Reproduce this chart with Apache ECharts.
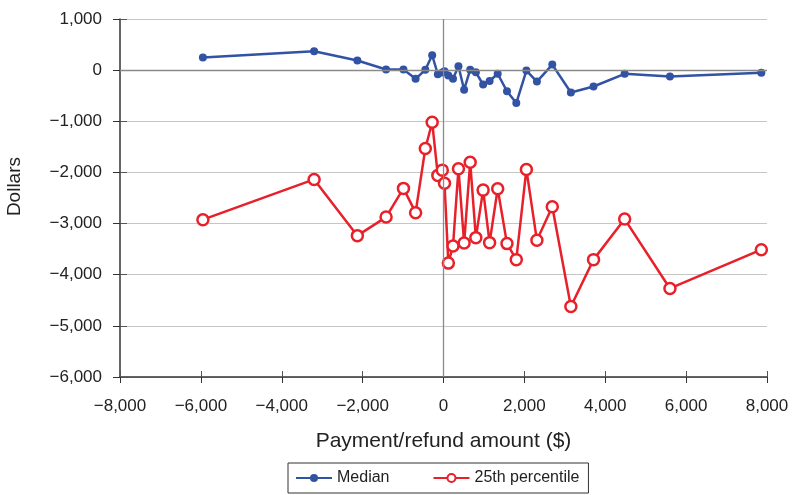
<!DOCTYPE html>
<html>
<head>
<meta charset="utf-8">
<script src="https://cdn.jsdelivr.net/npm/echarts@6/dist/echarts.min.js"></script>
<style>
html,body{margin:0;padding:0;background:#fff;}
#chart{width:792px;height:495px;}
</style>
</head>
<body>
<div id="chart"></div>
<script>
// Payment/refund amount ($) — x positions shared by both series
var xValues = [-5950, -3200, -2130, -1420, -990, -690, -450, -280, -140, -30, 25, 120, 235, 370, 510, 660, 800, 980, 1140, 1340, 1570, 1800, 2050, 2310, 2690, 3150, 3710, 4480, 5600, 7860];
var medianValues = [246, 369, 188, 12, 12, -170, 6, 291, -80, -47, -24, -105, -170, 76, -383, 8, -43, -281, -213, -70, -412, -643, -8, -223, 109, -437, -320, -72, -125, -53];
var p25Values = [-2924, -2137, -3236, -2873, -2312, -2787, -1531, -1019, -2058, -1955, -2211, -3773, -3439, -1928, -3381, -1799, -3275, -2346, -3373, -2318, -3392, -3705, -1941, -3328, -2670, -4623, -3705, -2912, -4269, -3510];
var seriesNames = ['Median', '25th percentile'];
var xTicks = {min: -8000, max: 8000, interval: 2000};
var yTicks = {min: -6000, max: 1000, interval: 1000};

function fmt(v) {
  var a = Math.abs(v);
  var s = String(a).replace(/\B(?=(\d{3})+(?!\d))/g, ',');
  return v < 0 ? '\u2212' + s : s;
}
function pairs(ys) {
  return xValues.map(function (x, i) { return [x, ys[i]]; });
}

var FONT = 'Liberation Sans, Arial, sans-serif';
var chart = echarts.init(document.getElementById('chart'), null, {renderer: 'canvas'});
chart.setOption({
  animation: false,
  backgroundColor: '#fff',
  grid: {left: 120, right: 25, top: 19, bottom: 118, containLabel: false},
  legend: {
    data: seriesNames,
    left: 288, top: 463,
    orient: 'horizontal',
    padding: [7, 9, 7, 7],
    borderColor: '#333', borderWidth: 1,
    itemWidth: 36, itemHeight: 10, itemGap: 43,
    textStyle: {fontFamily: FONT, fontSize: 16, color: '#222'}
  },
  xAxis: [{
    type: 'value', min: xTicks.min, max: xTicks.max, interval: xTicks.interval,
    position: 'bottom',
    name: 'Payment/refund amount ($)', nameLocation: 'middle', nameGap: 54,
    nameTextStyle: {fontFamily: FONT, fontSize: 21, color: '#222'},
    axisLine: {onZero: false, lineStyle: {color: '#333', width: 1.5}},
    axisTick: {show: true, inside: false, length: 6, lineStyle: {color: '#333', width: 1}},
    axisLabel: {formatter: fmt, margin: 21, fontFamily: FONT, fontSize: 17, color: '#222'},
    splitLine: {show: false}
  }, {
    type: 'value', min: xTicks.min, max: xTicks.max, interval: xTicks.interval,
    position: 'bottom',
    axisLine: {show: false, onZero: false},
    axisTick: {show: true, inside: true, length: 6, lineStyle: {color: '#555', width: 1}},
    axisLabel: {show: false},
    splitLine: {show: false}
  }],
  yAxis: [{
    type: 'value', min: yTicks.min, max: yTicks.max, interval: yTicks.interval,
    position: 'left',
    axisLine: {show: true, onZero: false, lineStyle: {color: '#333', width: 1.5}},
    axisTick: {show: true, inside: false, length: 7, lineStyle: {color: '#333', width: 1}},
    axisLabel: {formatter: fmt, margin: 18, fontFamily: FONT, fontSize: 17, color: '#222'},
    splitLine: {show: true, lineStyle: {color: '#c6c6c6', width: 1.2}}
  }, {
    type: 'value', min: yTicks.min, max: yTicks.max, interval: yTicks.interval,
    position: 'left',
    axisLine: {show: false, onZero: false},
    axisTick: {show: true, inside: true, length: 7, lineStyle: {color: '#555', width: 1}},
    axisLabel: {show: false},
    splitLine: {show: false}
  }],
  graphic: [{
    type: 'text', left: 5, top: 157, rotation: Math.PI / 2,
    style: {text: 'Dollars', font: '19px ' + FONT, fill: '#222'}
  }],
  series: [{
    name: 'zero-lines', type: 'line', data: [], z: 1, silent: true,
    markLine: {
      silent: true, symbol: 'none', animation: false,
      label: {show: false},
      lineStyle: {color: '#8a8a8a', width: 1.3, type: 'solid'},
      data: [{xAxis: 0}, {yAxis: 0}]
    }
  }, {
    name: seriesNames[0], type: 'line', z: 3,
    data: pairs(medianValues),
    symbol: 'circle', symbolSize: 8,
    lineStyle: {color: '#3252a4', width: 2.5},
    itemStyle: {color: '#3252a4'}
  }, {
    name: seriesNames[1], type: 'line', z: 4,
    data: pairs(p25Values),
    symbol: 'circle', symbolSize: 11,
    lineStyle: {color: '#e8202a', width: 2.5},
    itemStyle: {color: '#fff', borderColor: '#e8202a', borderWidth: 2.5}
  }]
});
</script>
</body>
</html>
